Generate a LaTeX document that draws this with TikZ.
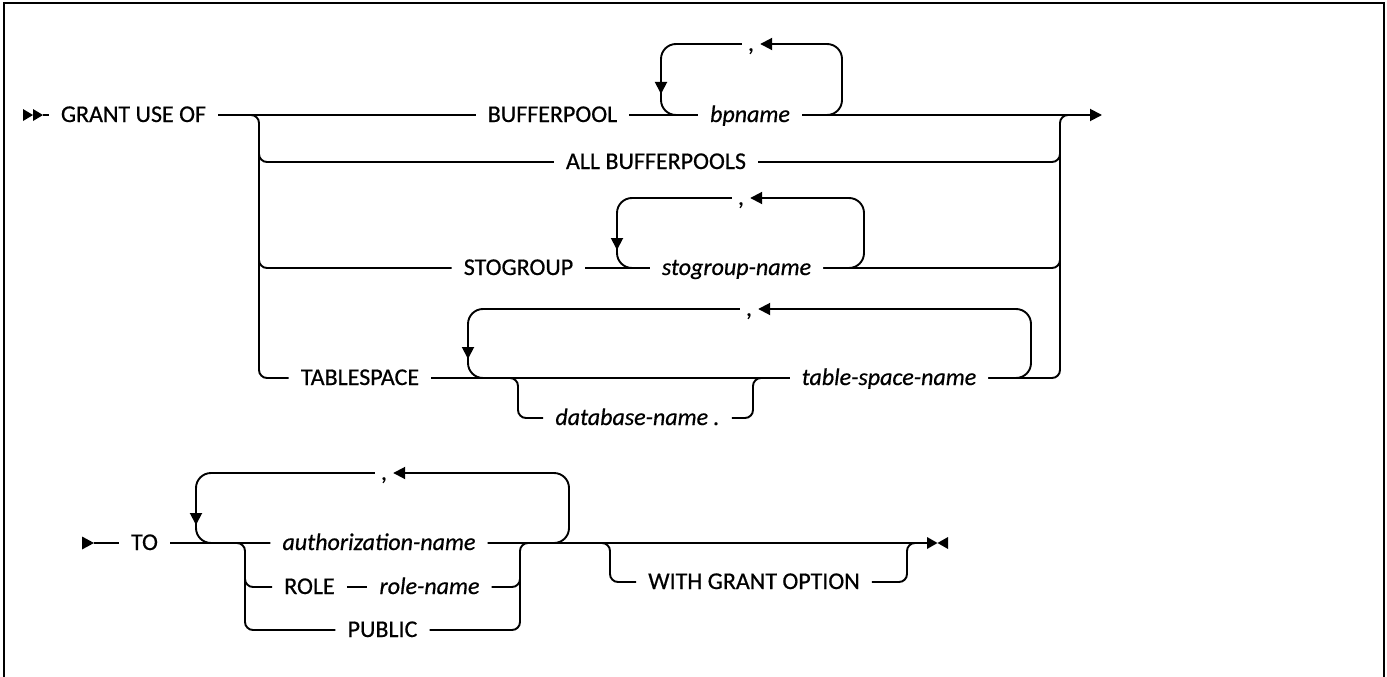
\documentclass[tikz,border=0pt]{standalone}
\usepackage{fontspec}
\setmainfont{Carlito}[FakeBold=0.6]
\usetikzlibrary{arrows.meta}
\tikzset{
 ln/.style={line width=1.9pt, line cap=butt},
 br/.style={ln, rounded corners=8pt},
 lp/.style={ln, rounded corners=15pt},
 kw/.style={inner xsep=12pt, inner ysep=0pt, text height=17pt, text depth=3pt, font=\fontsize{24}{28}\selectfont},
 vr/.style={kw, font=\fontsize{24}{28}\selectfont\itshape},
 cma/.style={kw, inner xsep=6pt},
 arr/.style={-{Triangle[length=12pt,width=12pt]}},
}
\begin{document}
\begin{tikzpicture}[x=1pt,y=-1pt]
\useasboundingbox (0,0) rectangle (1387,677);
% frame
\draw[line width=2.5pt] (4,677) -- (4,3) -- (1384,3) -- (1384,677);

% ---------- first block ----------
\node[kw] (grant) at (133.5,115) {GRANT USE OF};
\node[kw] (bufp) at (552.5,115) {BUFFERPOOL};
\node[vr] (bpn) at (750,115) {bpname};
\node[cma] (c1) at (751,44) {,};
\node[kw] (allbp) at (656,162) {ALL BUFFERPOOLS};
\node[kw] (stog) at (518.5,268) {STOGROUP};
\node[vr] (sgn) at (736.5,268) {stogroup-name};
\node[cma] (c2) at (741,198) {,};
\node[kw] (tbs) at (360,378) {TABLESPACE};
\node[vr] (dbn) at (637.5,418) {database-name .};
\node[vr] (tsn) at (889,378) {table-space-name};
\node[cma] (c3) at (749,309) {,};

\coordinate (s1) at (43,115);
\coordinate (bl) at (259,115);
\coordinate (brr) at (1060,115);
\coordinate (e1) at (1102,115);

% start marker
\fill (23,109) -- (33,115) -- (23,121) -- cycle;
\fill (33,109) -- (43,115) -- (33,121) -- cycle;
\draw[ln] (s1) -- (grant.west);

% main row
\draw[br] (grant.east) -- (bufp.west);
\draw[ln] (bufp.east) -- (bpn.west);
\draw[ln,arr] (bpn.east) -- (e1);

% left branch
\draw[br] (240,115) -- (bl) -- (bl |- tbs) -- (tbs.west);
\draw[br] (259,140) |- (allbp.west);
\draw[br] (259,240) |- (stog.west);

% right branch
\draw[br] (allbp.east) -| (1060,140);
\draw[br] (sgn.east) -| (1060,240);
\draw[br] (tsn.east) -| (brr) -- (1080,115);

% bpname loop
\draw[lp,arr] (bpn.east) -| (842,44) -- (c1.east);
\draw[lp,arr] (c1.west) -| (661,94);
\draw[lp] (661,85) |- (bpn.west);

% stogroup
\draw[ln] (stog.east) -- (sgn.west);
\draw[lp,arr] (sgn.east) -| (864,198) -- (c2.east);
\draw[lp,arr] (c2.west) -| (617,250);
\draw[lp] (617,240) |- (sgn.west);

% tablespace
\draw[ln] (tbs.east) -- (tsn.west);
\draw[lp,arr] (tsn.east) -| (1031,309) -- (c3.east);
\draw[lp,arr] (c3.west) -| (468,359);
\draw[lp] (468,345) |- (tsn.west);
\draw[br] (500,378) -- (518,378) -- (518,418) -- (dbn.west);
\draw[br] (dbn.east) -| (753,378) -- (775,378);

% ---------- second block ----------
\node[kw] (tokw) at (144.5,543) {TO};
\node[vr] (auth) at (379,543) {authorization-name};
\node[kw] (role) at (309.5,587) {ROLE};
\node[vr] (rolen) at (429.5,587) {role-name};
\node[kw] (pub) at (382.5,630) {PUBLIC};
\node[kw] (wgo) at (754,582) {WITH GRANT OPTION};
\node[cma] (c4) at (384,473) {,};

\coordinate (s2) at (94,543);
\coordinate (e2) at (927,543);

\fill (82,536.5) -- (s2) -- (82,549.5) -- cycle;
\draw[ln] (s2) -- (tokw.west);
\draw[ln] (tokw.east) -- (auth.west);
\draw[ln] (auth.east) -- (e2);

% choice branch
\draw[br] (230,543) -- (245,543) -- (245,630) -- (pub.west);
\draw[br] (245,570) |- (role.west);
\draw[ln] (role.east) -- (rolen.west);
\draw[br] (pub.east) -| (520,543) -- (535,543);
\draw[br] (rolen.east) -| (520,570);

% repeat loop
\draw[lp,arr] (auth.east) -| (569,473) -- (c4.east);
\draw[lp,arr] (c4.west) -| (196,525);
\draw[lp] (196,510) |- (auth.west);

% with grant option
\draw[br] (590,543) -- (610,543) -- (610,582) -- (wgo.west);
\draw[br] (wgo.east) -| (907,543) -- (925,543);

% end marker
\fill (927,537) -- (937.5,543) -- (927,549) -- cycle;
\fill (948,537) -- (937.5,543) -- (948,549) -- cycle;
\end{tikzpicture}
\end{document}
